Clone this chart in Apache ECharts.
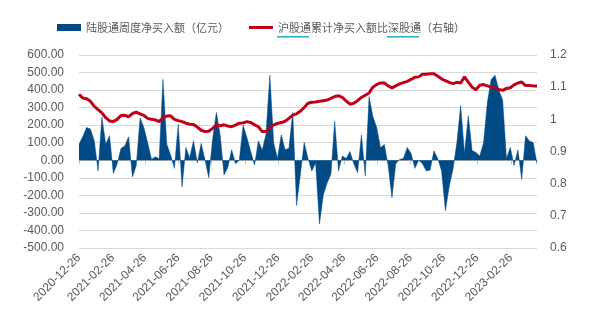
<!DOCTYPE html>
<html><head><meta charset="utf-8">
<script src="https://cdn.jsdelivr.net/npm/echarts@6/dist/echarts.min.js"></script>
<style>html,body{margin:0;padding:0;background:#fff}#c{width:594px;height:330px}</style>
</head><body><div id="c"></div>
<script>
// weekly observations starting at this date
const startDate = '2020-12-26';
const seriesNames = ['陆股通周度净买入额（亿元）', '沪股通累计净买入额比深股通（右轴）'];
// 陆股通周度净买入额（亿元）
const flowValues = [
  92, 135, 187, 178, 111, -61, 245, 92, 140, -75,
  -20, 67, 82, 134, -95, -30, 241, 187, 98, 5,
  20, 8, 461, 92, 30, -46, 206, -153, 73, 15,
  111, -15, 96, 5, -100, 120, 273, 140, -84, -40,
  60, -20, 0, 200, 130, 50, -27, 111, 57, 150,
  484, 100, 10, 145, 60, 69, 273, -258, -80, 101,
  10, -61, -15, -363, -200, -130, -80, 222, -61, 25,
  10, 50, -20, -71, 145, -90, 363, 250, 187, 72,
  90, -30, -214, -20, 5, 10, 73, 40, -46, 0,
  -20, -61, -55, 54, 10, -61, -287, -150, -50, 100,
  312, 40, 254, 55, 45, 25, 100, 330, 460, 484,
  400, 343, 10, 73, -30, 60, -109, 140, 110, 101,
  -20
];
// 沪股通累计净买入额比深股通（右轴）
const ratioValues = [
  1.078, 1.066, 1.064, 1.056, 1.040, 1.030, 1.020, 1.005, 0.995, 0.993,
  1.000, 1.012, 1.013, 1.008, 1.018, 1.022, 1.017, 1.012, 1.003, 1.000,
  0.998, 0.993, 1.005, 1.010, 1.011, 1.000, 0.996, 0.993, 0.988, 0.985,
  0.984, 0.976, 0.966, 0.962, 0.963, 0.972, 0.982, 0.980, 0.983, 0.979,
  0.977, 0.982, 0.988, 0.989, 0.993, 0.990, 0.983, 0.977, 0.962, 0.962,
  0.973, 0.983, 0.987, 0.990, 0.994, 1.003, 1.013, 1.017, 1.025, 1.037,
  1.050, 1.053, 1.054, 1.056, 1.058, 1.060, 1.065, 1.071, 1.073, 1.068,
  1.057, 1.047, 1.050, 1.058, 1.068, 1.075, 1.082, 1.100, 1.108, 1.113,
  1.113, 1.104, 1.098, 1.104, 1.110, 1.114, 1.118, 1.124, 1.131, 1.132,
  1.140, 1.140, 1.142, 1.142, 1.134, 1.126, 1.120, 1.115, 1.111, 1.115,
  1.113, 1.132, 1.116, 1.100, 1.092, 1.106, 1.108, 1.104, 1.100, 1.097,
  1.093, 1.090, 1.096, 1.098, 1.107, 1.113, 1.116, 1.105, 1.105, 1.104,
  1.104
];
const tickLabels = ['2020-12-26','2021-02-26','2021-04-26','2021-06-26','2021-08-26','2021-10-26','2021-12-26',
  '2022-02-26','2022-04-26','2022-06-26','2022-08-26','2022-10-26','2022-12-26','2023-02-26'];

function dayNumber(s) {
  const p = s.split('-').map(Number);
  return Math.round(Date.UTC(p[0], p[1] - 1, p[2]) / 86400000);
}
const day0 = dayNumber(startDate);
// x = days since startDate (weekly points)
const dayOffsets = flowValues.map((_, i) => i * 7);
const tickOffsets = tickLabels.map(s => dayNumber(s) - day0);
const labelByOffset = {};
tickOffsets.forEach((o, i) => { labelByOffset[o] = tickLabels[i]; });
const flowData = flowValues.map((v, i) => [dayOffsets[i], v]);
const ratioData = ratioValues.map((v, i) => [dayOffsets[i], v]);
const xMax = dayOffsets[dayOffsets.length - 1];

const BLUE = '#004a86';
const RED = '#c00018';
const TXT = '#595959';
const GRID = '#d9d9d9';
const CYAN = '#2fb3c6';

// thin line legend icon (band in the middle of a 24x7 box)
const lineIcon = 'path://M0,0L0.01,0L0,0.01Z M0,2L24,2L24,5L0,5Z M24,7L23.99,7L24,6.99Z';

const chart = echarts.init(document.getElementById('c'), null, {renderer: 'canvas'});
chart.setOption({
  animation: false,
  backgroundColor: '#fff',
  textStyle: {fontFamily: '"Noto Sans CJK SC", "Liberation Sans", sans-serif'},
  legend: {
    left: 52, top: 17,
    itemGap: 20, itemWidth: 24, itemHeight: 7,
    textStyle: {color: TXT, fontSize: 11, fontFamily: '"Noto Sans CJK SC", sans-serif'},
    data: [
      {name: seriesNames[0], icon: 'rect'},
      {name: seriesNames[1], icon: lineIcon}
    ]
  },
  grid: {left: 79, right: 57, top: 55, bottom: 82},
  xAxis: [{
    type: 'value',
    min: 0, max: xMax,
    axisLine: {show: false, onZero: false},
    axisTick: {show: false},
    splitLine: {show: false},
    axisLabel: {
      customValues: tickOffsets,
      rotate: 45, color: TXT, fontSize: 12, margin: 8,
      fontFamily: '"Liberation Sans", Arial, sans-serif',
      formatter: v => labelByOffset[Math.round(v)] || ''
    }
  }, {
    type: 'value',
    min: 0, max: xMax,
    position: 'bottom',
    axisLine: {show: true, onZero: true, onZeroAxisIndex: 0, lineStyle: {color: '#bfbfbf', width: 1}},
    axisTick: {show: true, customValues: tickOffsets, length: 4, lineStyle: {color: '#bfbfbf'}},
    axisLabel: {show: false},
    splitLine: {show: false}
  }],
  yAxis: [{
    type: 'value', min: -500, max: 600, interval: 100,
    axisLine: {show: false}, axisTick: {show: false},
    splitLine: {lineStyle: {color: GRID, width: 1}},
    axisLabel: {color: TXT, fontSize: 12, margin: 15,
      fontFamily: '"Liberation Sans", Arial, sans-serif',
      formatter: v => v.toFixed(2)}
  }, {
    type: 'value', min: 0.6, max: 1.2, interval: 0.1,
    axisLine: {show: false}, axisTick: {show: false},
    splitLine: {show: false},
    axisLabel: {color: TXT, fontSize: 12, margin: 13,
      fontFamily: '"Liberation Sans", Arial, sans-serif',
      formatter: v => String(+v.toFixed(1))}
  }],
  graphic: [
    {type: 'rect', left: 277, top: 36, shape: {width: 32, height: 1.6}, style: {fill: CYAN}, silent: true},
    {type: 'rect', left: 387, top: 36, shape: {width: 32, height: 1.6}, style: {fill: CYAN}, silent: true}
  ],
  series: [{
    name: seriesNames[0], type: 'line', xAxisIndex: 0, yAxisIndex: 0,
    data: flowData, showSymbol: false, symbol: 'none',
    itemStyle: {color: BLUE},
    lineStyle: {width: 0.5, color: BLUE},
    areaStyle: {color: BLUE, opacity: 1, origin: 0},
    z: 2
  }, {
    name: seriesNames[1], type: 'line', xAxisIndex: 0, yAxisIndex: 1,
    data: ratioData, showSymbol: false, symbol: 'none',
    itemStyle: {color: RED},
    lineStyle: {width: 3, color: RED},
    z: 3
  }]
});
</script>
</body></html>
